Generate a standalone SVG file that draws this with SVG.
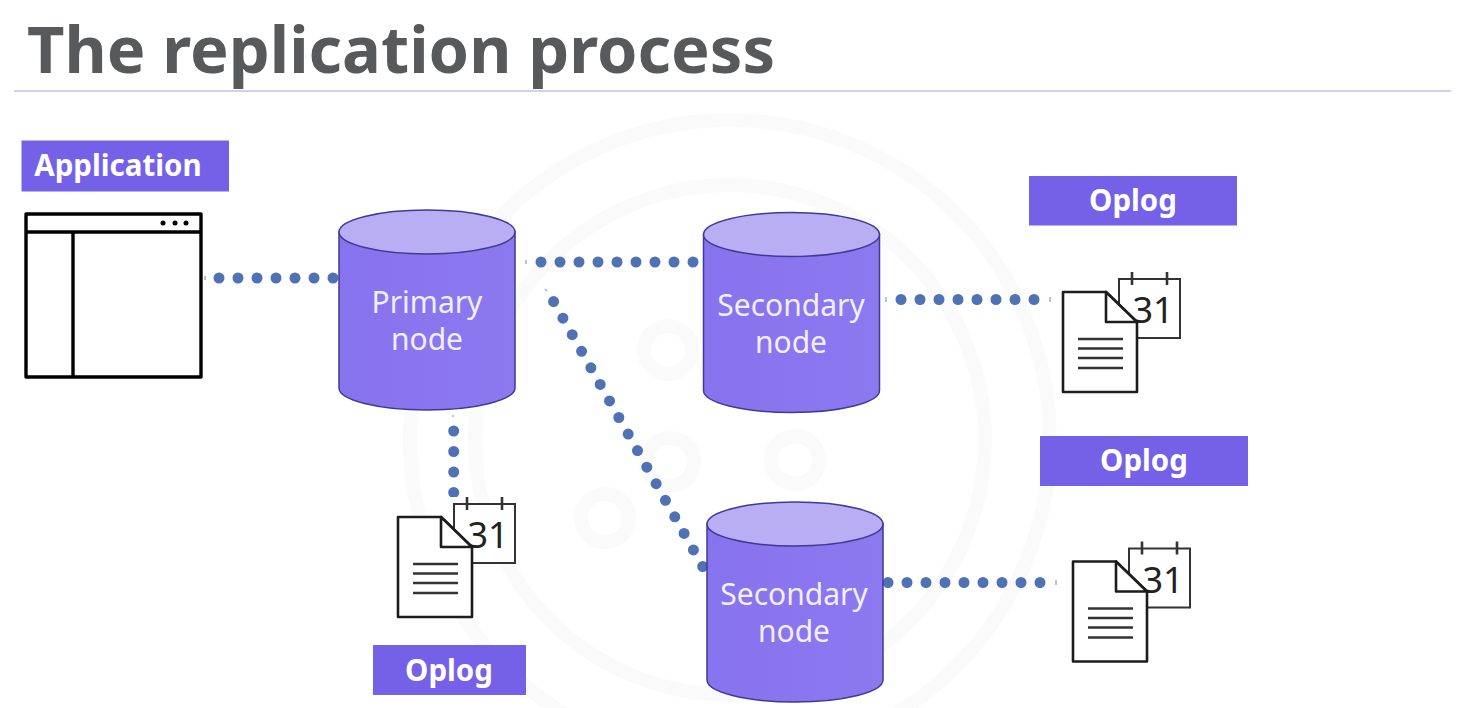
<svg xmlns="http://www.w3.org/2000/svg" xmlns:xlink="http://www.w3.org/1999/xlink" width="1464" height="708" viewBox="0 0 1464 708">
<style>
.title{font:700 65px "Noto Sans","Liberation Sans",sans-serif;fill:#58595b}
.lbl{font:700 29.500px "Noto Sans","Liberation Sans",sans-serif;fill:#fff;text-anchor:middle}
.cyl{font:400 30px "Noto Sans","Liberation Sans",sans-serif;fill:#f1eefe;text-anchor:middle}
.tag{fill:#7560e8}
.body{fill:url(#bodyFill);stroke:#3f3a94;stroke-width:1.5}
.top{fill:#b9adf3;stroke:#3f3a94;stroke-width:1.5}
.dots{fill:none;stroke:#4f72b4;stroke-width:11;stroke-linecap:round;stroke-dasharray:0 19}
.tick{fill:none;stroke:#9fb0d2;stroke-width:1.500}
.wm{fill:none;stroke:#fafafb;stroke-width:14}
.ic{fill:#fff;stroke:#333;stroke-width:2}
.doc{fill:#fff;stroke:#1c1c1c;stroke-width:2.6;stroke-linejoin:round}
.ln{stroke:#333;stroke-width:2.600}
.num{font:400 36px "Noto Sans","Liberation Sans",sans-serif;fill:#222;text-anchor:middle}
.win{fill:#fff;stroke:#000;stroke-width:3.4;stroke-linejoin:round}
</style>
<defs>
<linearGradient id="bodyFill" x1="0" y1="0" x2="1" y2="0"><stop offset="0" stop-color="#8873ee"/><stop offset="1" stop-color="#8c78ef"/></linearGradient>
<clipPath id="vclip"><rect x="440" y="415" width="30" height="82"/></clipPath>
<g id="oplogIcon">
<rect class="ic" x="454" y="504" width="61" height="59"/>
<path class="ln" d="M467 497V510M502 497V510" fill="none"/>
<text class="num" x="488" y="548">31</text>
<path class="doc" d="M398 517H441L472 547V617H398Z"/>
<path class="doc" d="M441 517V547H472Z"/>
<path class="ln" d="M413 564H458M413 573.500H458M413 583H458M413 593H458" fill="none"/>
</g>
<g id="cylinder">
<path class="body" d="M0 22V178C0 190 39 200 88 200S176 190 176 178V22Z"/>
<ellipse class="top" cx="88" cy="22" rx="88" ry="22"/>
</g>
</defs>
<rect width="1464" height="708" fill="#fff"/>
<g id="watermark">
<circle class="wm" cx="730" cy="440" r="320"/>
<circle class="wm" cx="730" cy="440" r="255"/>
<circle class="wm" cx="668" cy="350" r="24"/>
<circle class="wm" cx="795" cy="460" r="24"/>
<circle class="wm" cx="605" cy="518" r="24"/>
<circle class="wm" cx="670" cy="462" r="24"/>
</g>
<text class="title" x="27" y="73" textLength="748" lengthAdjust="spacingAndGlyphs">The replication process</text>
<path d="M14 91H1451" stroke="#c5bef0" stroke-width="1.500"/>
<g id="connectors">
<path class="dots" d="M219 278H340"/>
<path class="dots" d="M541 262H700"/>
<path class="dots" d="M901 299.500H1040"/>
<path class="dots" d="M888 582.500H1045"/>
<path class="dots" d="M553.600 301.600L703 567"/>
<path class="dots" d="M453.700 431V500" clip-path="url(#vclip)" style="stroke-dasharray:0 20.500"/>
<path class="tick" d="M205 276V280M526 260V264M886 297V302M1050 297V302M1056 580V585M545 289L547 291M453 415V417"/>
</g>
<g id="application">
<rect class="tag" x="21.500" y="140.500" width="207.500" height="51"/>
<text class="lbl" x="118" y="176">Application</text>
<rect class="win" x="26" y="214" width="175" height="163"/>
<path d="M26 232H201M73 232V377" stroke="#000" stroke-width="3.400" fill="none"/>
<circle cx="163" cy="223" r="2.500"/><circle cx="175" cy="223" r="2.500"/><circle cx="186" cy="223" r="2.500"/>
</g>
<g id="primary-node">
<use href="#cylinder" x="339" y="210"/>
<text class="cyl" x="427" y="313">Primary</text>
<text class="cyl" x="427" y="350">node</text>
</g>
<g id="secondary-node-1">
<use href="#cylinder" x="703.500" y="212.500"/>
<text class="cyl" x="791" y="316">Secondary</text>
<text class="cyl" x="791" y="353">node</text>
</g>
<g id="secondary-node-2">
<use href="#cylinder" x="707" y="502"/>
<text class="cyl" x="794" y="605">Secondary</text>
<text class="cyl" x="794" y="642">node</text>
</g>
<g id="oplog-primary">
<use href="#oplogIcon"/>
<rect class="tag" x="373" y="645" width="153" height="50"/>
<text class="lbl" x="449" y="681">Oplog</text>
</g>
<g id="oplog-secondary-1">
<use href="#oplogIcon" x="665" y="-225"/>
<rect class="tag" x="1029" y="176" width="208" height="49.500"/>
<text class="lbl" x="1133" y="211">Oplog</text>
</g>
<g id="oplog-secondary-2">
<use href="#oplogIcon" x="675" y="44.500"/>
<rect class="tag" x="1040" y="436" width="208" height="50"/>
<text class="lbl" x="1144" y="471">Oplog</text>
</g>
</svg>
